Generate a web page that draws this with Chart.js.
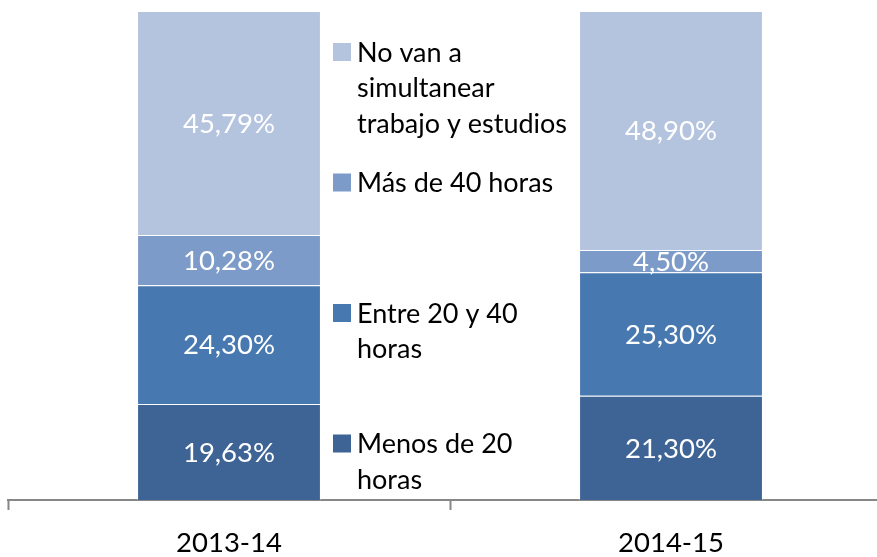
<!DOCTYPE html>
<html>
<head>
<meta charset="utf-8">
<script src="https://cdn.jsdelivr.net/npm/chart.js@4"></script>
<style>
  html, body { margin: 0; padding: 0; background: #fff; overflow: hidden; }
  #wrap { position: relative; width: 900px; height: 557px; }
</style>
</head>
<body>
<div id="wrap"><canvas id="chart"></canvas></div>
<script>
// ── Data ──
const categories = ['2013-14', '2014-15'];
const seriesNames = [
  'Menos de 20\nhoras',
  'Entre 20 y 40\nhoras',
  'Más de 40 horas',
  'No van a\nsimultanear\ntrabajo y estudios',
];
const menos20   = [19.63, 21.30];
const entre2040 = [24.30, 25.30];
const mas40     = [10.28, 4.50];
const noVan     = [45.79, 48.90];
const seriesColors = ['#3e6496', '#4878b0', '#7d9bc8', '#b4c3de'];

const FONT = 'Lato, "Open Sans", sans-serif';

// ── Labels inside segments ──
const segmentLabels = {
  id: 'segmentLabels',
  afterDatasetsDraw(chart) {
    const { ctx } = chart;
    ctx.save();
    ctx.fillStyle = '#ffffff';
    ctx.font = `27.5px ${FONT}`;
    ctx.textAlign = 'center';
    ctx.textBaseline = 'middle';
    chart.data.datasets.forEach((ds, i) => {
      chart.getDatasetMeta(i).data.forEach((bar, j) => {
        const { x, y, base } = bar.getProps(['x', 'y', 'base'], true);
        const txt = ds.data[j].toFixed(2).replace('.', ',') + '%';
        ctx.fillText(txt, x, (y + base) / 2 + 1);
      });
    });
    ctx.restore();
  },
};

// ── Legend between the bars ──
const middleLegend = {
  id: 'middleLegend',
  afterDraw(chart) {
    const { ctx } = chart;
    const n = chart.data.datasets.length;
    ctx.save();
    ctx.font = `27px ${FONT}`;
    ctx.textBaseline = 'middle';
    ctx.textAlign = 'left';
    for (let k = 0; k < n; k++) {
      const idx = n - 1 - k; // top item is last dataset
      const ds = chart.data.datasets[idx];
      const y0 = 52 + k * 130.5;
      ctx.fillStyle = ds.backgroundColor;
      ctx.fillRect(333, y0 - 9, 18, 18);
      ctx.fillStyle = '#000000';
      seriesNames[idx].split('\n').forEach((line, li) => {
        ctx.fillText(line, 357, y0 + li * 35.5 + 1);
      });
    }
    ctx.restore();
  },
};

const datasets = [menos20, entre2040, mas40, noVan].map((vals, i) => ({
  label: seriesNames[i].replace(/\n/g, ' '),
  data: vals,
  backgroundColor: seriesColors[i],
  borderColor: 'rgba(255,255,255,0.35)',
  borderWidth: 1,
  categoryPercentage: 1,
  barPercentage: 0.416,
}));

new Chart(document.getElementById('chart'), {
  type: 'bar',
  data: { labels: categories, datasets },
  options: {
    responsive: true,
    maintainAspectRatio: false,
    animation: false,
    layout: { padding: { left: 8, right: 8, top: 11, bottom: 0 } },
    plugins: {
      legend: { display: false },
      tooltip: { enabled: false },
    },
    scales: {
      x: {
        stacked: true,
        offset: true,
        afterFit: scale => { scale.height = 57; },
        grid: {
          offset: true,
          drawOnChartArea: false,
          drawTicks: true,
          tickLength: 10,
          tickWidth: 2,
          color: '#878787',
        },
        border: { display: true, color: '#878787', width: 2 },
        ticks: {
          padding: 17,
          color: '#000000',
          font: { family: FONT, size: 27.5 },
          maxRotation: 0,
        },
      },
      y: {
        stacked: true,
        min: 0,
        max: 100,
        display: false,
      },
    },
  },
  plugins: [segmentLabels, middleLegend],
});
</script>
</body>
</html>
